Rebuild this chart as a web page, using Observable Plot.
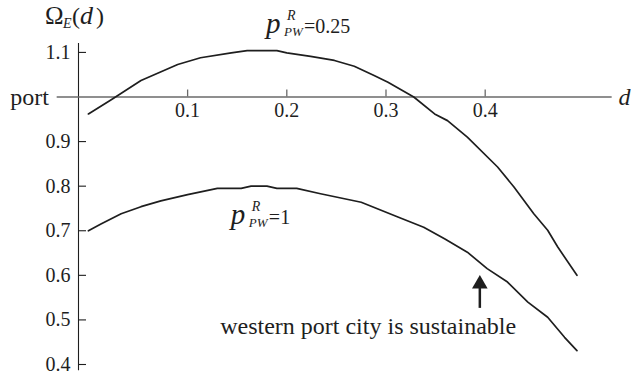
<!DOCTYPE html>
<html>
<head>
<meta charset="utf-8">
<script src="https://cdn.jsdelivr.net/npm/d3@7"></script>
<script src="https://cdn.jsdelivr.net/npm/@observablehq/plot@0.6"></script>
<style>
  html, body { margin: 0; padding: 0; background: #fff; }
  #chart svg { display: block; }
  #chart svg text { font-family: "Liberation Serif", "Times New Roman", serif; }
</style>
</head>
<body>
<div id="chart"></div>
<script>
// Omega_E(d) for two values of p^R_PW
const dHigh = [0.0, 0.023, 0.053, 0.09, 0.113, 0.144, 0.16, 0.19, 0.2, 0.224, 0.248, 0.268, 0.288, 0.302, 0.328, 0.349, 0.362, 0.382, 0.4125, 0.429, 0.449, 0.463, 0.473, 0.4925];
const vHigh = [0.962, 0.994, 1.037, 1.073, 1.088, 1.099, 1.104, 1.104, 1.099, 1.091, 1.082, 1.069, 1.048, 1.033, 1.0, 0.962, 0.947, 0.91, 0.843, 0.798, 0.738, 0.701, 0.664, 0.6];

const dLow = [0.0, 0.0126, 0.033, 0.053, 0.073, 0.1, 0.13, 0.154, 0.164, 0.18, 0.19, 0.21, 0.234, 0.275, 0.312, 0.338, 0.359, 0.382, 0.402, 0.4225, 0.443, 0.463, 0.48, 0.4925];
const vLow = [0.7, 0.715, 0.738, 0.754, 0.767, 0.781, 0.795, 0.795, 0.8, 0.8, 0.795, 0.795, 0.783, 0.764, 0.731, 0.708, 0.682, 0.652, 0.615, 0.585, 0.54, 0.506, 0.461, 0.431];

const yTicks = [0.4, 0.5, 0.6, 0.7, 0.8, 0.9, 1.1];
const xTicks = [0.1, 0.2, 0.3, 0.4];
const portLevel = 1.0;

const ink = "#1e1e1e";
const serif = "Liberation Serif";

const toRows = (ds, vs) => ds.map((d, i) => ({d, v: vs[i]}));

// Rich label: several text runs placed from one anchor with pixel offsets
function richText(x, y, runs) {
  return runs.map(r => Plot.text([{x, y}], {
    x: "x", y: "y", text: () => r.t,
    dx: r.dx || 0, dy: r.dy || 0,
    fontSize: r.size, fontStyle: r.italic ? "italic" : "normal", fontFamily: serif,
    textAnchor: "start", lineAnchor: "bottom", fill: ink
  }));
}

const pLabel = (x, y, value) => richText(x, y, [
  {t: "p", size: 29, italic: true},
  {t: "R", size: 14, italic: true, dx: 21, dy: -13},
  {t: "PW", size: 13, italic: true, dx: 18, dy: 3},
  {t: "=" + value, size: 20, dx: 38}
]);

const xTickLen = 7 / 445.8;   // tick length expressed in y units
const yTickLen = 8 / 991.9;   // tick length expressed in x units

const chart = Plot.plot({
  width: 631,
  height: 377,
  marginLeft: 78,
  marginRight: 12.4,
  marginTop: 43,
  marginBottom: 13,
  x: {domain: [-0.01, 0.535], axis: null},
  y: {domain: [0.4, 1.12], axis: null},
  style: {fontFamily: serif, background: "#fff", overflow: "visible", color: ink},
  marks: [
    // vertical axis
    Plot.ruleX([-0.01], {y1: 0.386, y2: 1.12, stroke: ink, strokeWidth: 1.1}),
    Plot.ruleY(yTicks, {x1: -0.01, x2: -0.01 + yTickLen, stroke: ink, strokeWidth: 1.1}),
    Plot.text(yTicks, {x: -0.01, y: d => d, text: d => d3.format(".1f")(d), dx: -8, textAnchor: "end", lineAnchor: "middle", fontSize: 20, fontFamily: serif, fill: ink}),
    // horizontal "port" line acting as the d axis
    Plot.ruleY([portLevel], {x1: -0.0315, x2: 0.528, stroke: "#6a6a6a", strokeWidth: 1.3}),
    Plot.ruleX(xTicks, {y1: portLevel, y2: portLevel + xTickLen, stroke: "#6a6a6a", strokeWidth: 1.3}),
    Plot.text(xTicks, {x: d => d, y: portLevel, text: d => d3.format(".1f")(d), dy: 6, lineAnchor: "top", fontSize: 20, fontFamily: serif, fill: ink}),
    Plot.text(["port"], {x: -0.0397, y: portLevel, text: d => d, textAnchor: "end", lineAnchor: "middle", fontSize: 24, fontFamily: serif, fill: ink}),
    Plot.text(["d"], {x: 0.5344, y: portLevel, text: d => d, textAnchor: "start", lineAnchor: "middle", fontSize: 24, fontStyle: "italic", fontFamily: serif, fill: ink}),
    // curves
    Plot.line(toRows(dHigh, vHigh), {x: "d", y: "v", stroke: ink, strokeWidth: 1.7}),
    Plot.line(toRows(dLow, vLow), {x: "d", y: "v", stroke: ink, strokeWidth: 1.7}),
    // axis title Omega_E(d)
    ...richText(-0.0438, 1.1627, [
      {t: "Ω", size: 25},
      {t: "E", size: 14, italic: true, dx: 18, dy: 4},
      {t: "(", size: 24, dx: 27},
      {t: "d", size: 26, italic: true, dx: 35},
      {t: ")", size: 24, dx: 51}
    ]),
    // curve labels
    ...pLabel(0.179, 1.1426, "0.25"),
    ...pLabel(0.1436, 0.716, "1"),
    // arrow and note
    Plot.link([{x: 0.3946}], {x1: "x", x2: "x", y1: 0.527, y2: 0.585, stroke: ink, strokeWidth: 2.5}),
    Plot.dot([{x: 0.3946}], {x: "x", y: 0.5806, symbol: "triangle", r: 5.8, fill: ink, stroke: "none"}),
    Plot.text(["western port city is sustainable"], {x: 0.282, y: 0.469, text: d => d, textAnchor: "middle", lineAnchor: "bottom", fontSize: 24, fontFamily: serif, fill: ink})
  ]
});

document.getElementById("chart").appendChild(chart);
</script>
</body>
</html>
